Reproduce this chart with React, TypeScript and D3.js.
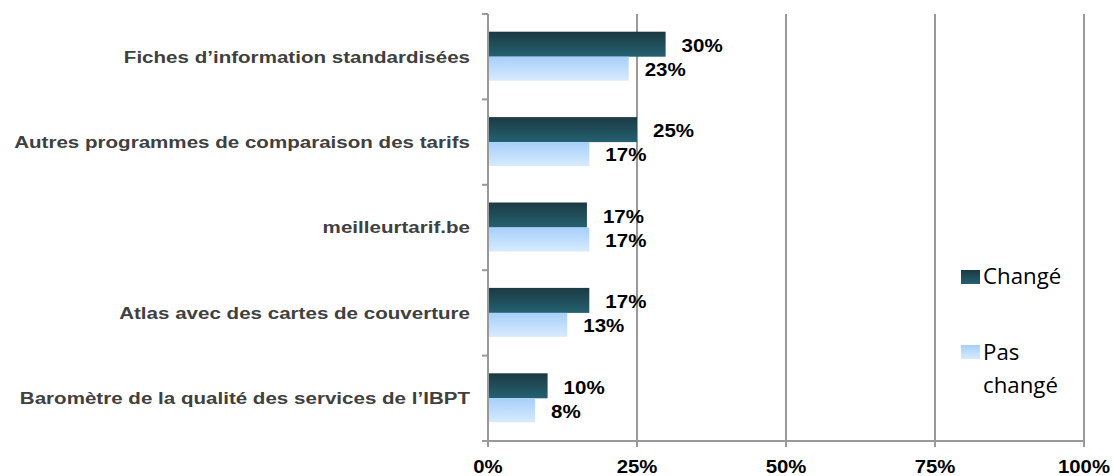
import { useEffect, useRef } from 'react';
import * as d3 from 'd3';

const categories = [
  'Fiches d\u2019information standardisées',
  'Autres programmes de comparaison des tarifs',
  'meilleurtarif.be',
  'Atlas avec des cartes de couverture',
  'Baromètre de la qualité des services de l\u2019IBPT',
];
const changeValues = [29.8, 25, 16.6, 17, 10];
const changeLabels = ['30%', '25%', '17%', '17%', '10%'];
const pasChangeValues = [23.6, 17, 17, 13.3, 7.9];
const pasChangeLabels = ['23%', '17%', '17%', '13%', '8%'];
const ticks = [0, 25, 50, 75, 100];

const App = () => {
  const svgRef = useRef<SVGSVGElement>(null);

  useEffect(() => {
    const svg = d3.select(svgRef.current);
    svg.selectAll('*').remove();

    const left = 488;
    const right = 1084;
    const top = 14;
    const bottom = 441;
    const font = 'Liberation Sans, Arial, sans-serif';

    const defs = svg.append('defs');
    const dark = defs.append('linearGradient').attr('id', 'gDark').attr('x1', 0).attr('y1', 0).attr('x2', 0).attr('y2', 1);
    dark.append('stop').attr('offset', '0%').attr('stop-color', '#1b3a43');
    dark.append('stop').attr('offset', '100%').attr('stop-color', '#246170');
    const light = defs.append('linearGradient').attr('id', 'gLight').attr('x1', 0).attr('y1', 0).attr('x2', 0).attr('y2', 1);
    light.append('stop').attr('offset', '0%').attr('stop-color', '#a6cffb');
    light.append('stop').attr('offset', '100%').attr('stop-color', '#d8ebfd');

    const x = d3.scaleLinear().domain([0, 100]).range([left, right]);
    const y = d3.scaleBand().domain(categories).range([top, bottom]);
    const barH = 25;

    // gridlines
    svg.append('g')
      .selectAll('line')
      .data(ticks.slice(1))
      .enter().append('line')
      .attr('x1', d => x(d)).attr('x2', d => x(d))
      .attr('y1', top).attr('y2', bottom)
      .attr('stroke', '#999').attr('stroke-width', 2);

    const rows = svg.append('g').selectAll('g')
      .data(categories)
      .enter().append('g')
      .attr('transform', d => `translate(0,${y(d)! + y.bandwidth() / 2})`);

    rows.append('rect')
      .attr('x', x(0)).attr('y', -barH)
      .attr('width', (d, i) => x(changeValues[i]) - x(0))
      .attr('height', barH)
      .attr('fill', 'url(#gDark)');
    rows.append('rect')
      .attr('x', x(0)).attr('y', 0)
      .attr('width', (d, i) => x(pasChangeValues[i]) - x(0))
      .attr('height', barH - 1)
      .attr('fill', 'url(#gLight)');

    const labelStyle = (sel: any) => sel
      .attr('font-family', font)
      .attr('font-weight', 'bold')
      .attr('font-size', 19)
      .attr('fill', '#000')
      .attr('dominant-baseline', 'central');

    rows.append('text')
      .attr('transform', (d, i) => `translate(${x(changeValues[i]) + 16},${-barH / 2 + 1}) scale(1.08,1)`)
      .text((d, i) => changeLabels[i])
      .call(labelStyle);
    rows.append('text')
      .attr('transform', (d, i) => `translate(${x(pasChangeValues[i]) + 16},${barH / 2}) scale(1.08,1)`)
      .text((d, i) => pasChangeLabels[i])
      .call(labelStyle);

    rows.append('text')
      .attr('transform', 'translate(470,0) scale(1.21,1)')
      .attr('text-anchor', 'end')
      .attr('dominant-baseline', 'central')
      .attr('font-family', font)
      .attr('font-weight', 'bold')
      .attr('font-size', 17)
      .attr('fill', '#404040')
      .text(d => d);

    // y axis
    const yAxis = svg.append('g');
    yAxis.append('line')
      .attr('x1', left).attr('x2', left).attr('y1', top).attr('y2', bottom + 5)
      .attr('stroke', '#999').attr('stroke-width', 2);
    yAxis.selectAll('.tick')
      .data(d3.range(categories.length + 1))
      .enter().append('line')
      .attr('x1', left - 6).attr('x2', left)
      .attr('y1', i => top + i * y.step()).attr('y2', i => top + i * y.step())
      .attr('stroke', '#999').attr('stroke-width', 2);

    // x axis
    const xAxis = svg.append('g');
    xAxis.append('line')
      .attr('x1', left - 6).attr('x2', right).attr('y1', bottom).attr('y2', bottom)
      .attr('stroke', '#999').attr('stroke-width', 2);
    xAxis.selectAll('.tk')
      .data(ticks)
      .enter().append('line')
      .attr('x1', d => x(d)).attr('x2', d => x(d))
      .attr('y1', bottom).attr('y2', bottom + 6)
      .attr('stroke', '#999').attr('stroke-width', 2);
    xAxis.selectAll('text')
      .data(ticks)
      .enter().append('text')
      .attr('transform', d => `translate(${x(d)},473) scale(1.07,1)`)
      .attr('text-anchor', 'middle')
      .attr('font-family', font)
      .attr('font-weight', 'bold')
      .attr('font-size', 19)
      .attr('fill', '#000')
      .text(d => `${d}%`);

    // legend
    const legend = svg.append('g').attr('font-family', 'Open Sans, Liberation Sans, sans-serif').attr('font-size', 21).attr('fill', '#000');
    legend.append('rect').attr('x', 961).attr('y', 270).attr('width', 19).attr('height', 14).attr('fill', 'url(#gDark)');
    legend.append('text').attr('transform', 'translate(983,276) scale(1.06,1)').attr('dominant-baseline', 'central').text('Changé');
    legend.append('rect').attr('x', 961).attr('y', 345).attr('width', 19).attr('height', 14).attr('fill', 'url(#gLight)');
    legend.append('text').attr('transform', 'translate(983,352) scale(1.06,1)').attr('dominant-baseline', 'central').text('Pas');
    legend.append('text').attr('transform', 'translate(983,385) scale(1.06,1)').attr('dominant-baseline', 'central').text('changé');
  }, []);

  return (
    <svg ref={svgRef} width={1113} height={476} style={{ position: 'absolute', left: 0, top: 0 }} />
  );
};

export default App;
